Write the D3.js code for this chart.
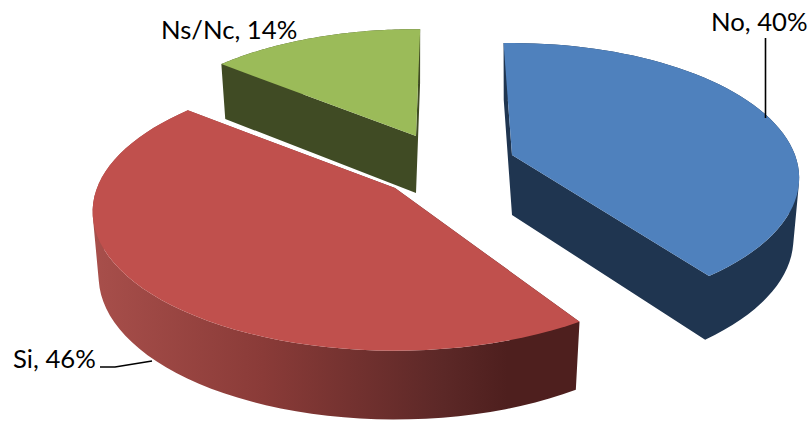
<!DOCTYPE html>
<html><head><meta charset="utf-8">
<script src="https://cdn.jsdelivr.net/npm/d3@7"></script>
<style>html,body{margin:0;padding:0;background:#fff;overflow:hidden}svg{display:block}text{font-family:Lato,"Open Sans",sans-serif;fill:#000}</style>
</head><body><svg id="c" width="811" height="422"></svg>
<script>
const categories = ["No","Si","Ns/Nc"];
const values = [40,46,14];
const topColors = ["#4f81bd","#c0504d","#9bbb59"];
const sideStops = [
  [[0,"#1f3550"],[1,"#1f3550"]],
  [[0,"#a84f4b"],[0.35,"#8a3b38"],[0.72,"#5c2827"],[0.85,"#4e1f1e"],[1,"#4e1f1e"]],
  [[0,"#404b24"],[1,"#404b24"]]
];
// per-slice projection: apex position, plane scales, depth, small angle adjustments (deg)
const apex = [[512,155],[395,188],[416,136]];
const scaleA = [283,298,280];
const scaleB = [131,135,125];
const depth = [60,64,57];
const adjust = [[-2,-1],[4,0],[0,1]];
const persp = 0.17;
const labels = [
  {text:"No, 40%",x:711,y:31},
  {text:"Si, 46%",x:13,y:368},
  {text:"Ns/Nc, 14%",x:161,y:39}
];
const svg = d3.select("#c");
const defs = svg.append("defs");
const pie = d3.pie().sort(null).value(d=>d);
const arcs = pie(values);
const line = d3.line();
function project(i,ang,r,base){
  const u=r*Math.sin(ang), v=-r*Math.cos(ang), w=1-persp*v;
  const kx=base?0.98:1, ky=base?1.03:1;
  return [apex[i][0]+kx*scaleA[i]*u/w, apex[i][1]+(base?depth[i]:0)+ky*scaleB[i]*v/w];
}
sideStops.forEach((st,i)=>{
  const g=defs.append("linearGradient").attr("id","side"+i).attr("gradientUnits","userSpaceOnUse")
    .attr("x1",92).attr("x2",580).attr("y1",0).attr("y2",0);
  st.forEach(s=>g.append("stop").attr("offset",s[0]).attr("stop-color",s[1]));
});
arcs.forEach((a,i)=>{
  const a0=a.startAngle+adjust[i][0]*Math.PI/180, a1=a.endAngle+adjust[i][1]*Math.PI/180;
  const samples=d3.range(0,61).map(k=>a0+(a1-a0)*k/60);
  const grp=svg.append("g");
  // every wall quad goes into one path, wound the same way, so no seams appear
  const quads=[
    [project(i,a0,0,false),project(i,a0,1,false),project(i,a0,1,true),project(i,a0,0,true)],
    [project(i,a1,0,false),project(i,a1,1,false),project(i,a1,1,true),project(i,a1,0,true)]
  ].concat(d3.pairs(samples).map(([p,q])=>[project(i,p,1,false),project(i,q,1,false),project(i,q,1,true),project(i,p,1,true)]));
  const d=quads.map(qd=>line(d3.polygonArea(qd)<0?qd.slice().reverse():qd)+"Z").join("");
  grp.append("path").attr("d",d).attr("fill","url(#side"+i+")");
  const top=[project(i,a0,0,false)].concat(samples.map(s=>project(i,s,1,false)));
  grp.append("path").attr("d",line(top)+"Z").attr("fill",topColors[i]);
});
// leader lines
const leaders=[[[765.5,38],[765.5,118]],[[100,367],[115,367],[152,361]]];
leaders.forEach(l=>svg.append("path").attr("d",d3.line()(l)).attr("fill","none").attr("stroke","#000").attr("stroke-width",1.6));
svg.selectAll("text.lab").data(labels).join("text").attr("class","lab")
  .attr("x",d=>d.x).attr("y",d=>d.y).attr("font-size",25.7).text(d=>d.text);
</script></body></html>
